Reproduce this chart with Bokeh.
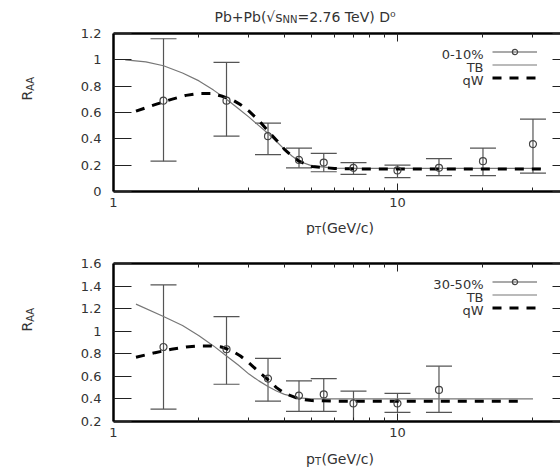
import math
from bokeh.plotting import figure
from bokeh.layouts import column, row
from bokeh.models import (LogAxis, LinearAxis, FixedTicker, CustomJSTickFormatter,
                          Label, Legend, LegendItem, Range1d)
from bokeh.embed import file_html
from bokeh.resources import INLINE

# ---------------- data ----------------
# 0-10% centrality, D0 R_AA
pt_central = [1.5, 2.5, 3.5, 4.5, 5.5, 7.0, 10.0, 14.0, 20.0, 30.0]
raa_central = [0.69, 0.69, 0.42, 0.24, 0.22, 0.18, 0.16, 0.18, 0.23, 0.36]
raa_central_lo = [0.23, 0.42, 0.28, 0.18, 0.15, 0.13, 0.105, 0.12, 0.12, 0.14]
raa_central_hi = [1.16, 0.98, 0.52, 0.33, 0.29, 0.22, 0.20, 0.25, 0.33, 0.55]

tb_central_pt = [1.1, 1.3, 1.5, 1.75, 2.0, 2.25, 2.5, 2.75, 3.0, 3.25, 3.5, 3.75,
                 4.0, 4.25, 4.5, 5.0, 6.0, 8.0, 10.0, 15.0, 20.0, 32.0]
tb_central = [1.00, 0.985, 0.955, 0.90, 0.84, 0.77, 0.70, 0.63, 0.565, 0.50, 0.44, 0.38,
              0.32, 0.27, 0.23, 0.195, 0.178, 0.175, 0.175, 0.175, 0.175, 0.175]

qw_central_pt = [1.2, 1.4, 1.6, 1.8, 2.0, 2.2, 2.4, 2.6, 2.8, 3.0, 3.25, 3.5, 3.75,
                 4.0, 4.25, 4.5, 5.0, 6.0, 8.0, 10.0, 15.0, 20.0, 32.0]
qw_central = [0.61, 0.66, 0.70, 0.73, 0.745, 0.745, 0.725, 0.70, 0.66, 0.61, 0.54, 0.46, 0.39,
              0.32, 0.27, 0.23, 0.19, 0.175, 0.17, 0.17, 0.17, 0.17, 0.17]

# 30-50% centrality, D0 R_AA
pt_semi = [1.5, 2.5, 3.5, 4.5, 5.5, 7.0, 10.0, 14.0]
raa_semi = [0.86, 0.84, 0.58, 0.43, 0.44, 0.36, 0.36, 0.48]
raa_semi_lo = [0.31, 0.53, 0.38, 0.29, 0.29, 0.20, 0.28, 0.28]
raa_semi_hi = [1.41, 1.13, 0.76, 0.56, 0.58, 0.47, 0.45, 0.69]

tb_semi_pt = [1.2, 1.5, 1.75, 2.0, 2.25, 2.5, 2.75, 3.0, 3.25, 3.5, 3.75, 4.0,
              4.5, 5.0, 6.0, 8.0, 10.0, 15.0, 20.0, 30.0]
tb_semi = [1.24, 1.13, 1.05, 0.96, 0.87, 0.78, 0.70, 0.62, 0.56, 0.51, 0.47, 0.44,
           0.41, 0.40, 0.40, 0.40, 0.40, 0.40, 0.40, 0.40]

qw_semi_pt = [1.2, 1.4, 1.6, 1.8, 2.0, 2.2, 2.4, 2.6, 2.8, 3.0, 3.25, 3.5, 3.75,
              4.0, 4.5, 5.0, 6.0, 8.0, 10.0, 15.0, 20.0, 27.0]
qw_semi = [0.77, 0.81, 0.84, 0.86, 0.87, 0.87, 0.86, 0.83, 0.78, 0.72, 0.64, 0.57, 0.50,
           0.45, 0.40, 0.385, 0.38, 0.38, 0.38, 0.38, 0.38, 0.38]

x_ticks = [1, 10]
x_minor_ticks = [2, 3, 4, 5, 6, 7, 8, 9, 20, 30]
y_ticks_central = [0, 0.2, 0.4, 0.6, 0.8, 1.0, 1.2]
y_ticks_semi = [0.2, 0.4, 0.6, 0.8, 1.0, 1.2, 1.4, 1.6]
legend_labels_central = ["0-10%", "TB", "qW"]
legend_labels_semi = ["30-50%", "TB", "qW"]

FONT = "DejaVu Sans"
TXT = "#333333"


def lab(p, x, y, text, size, angle=0.0, align="left"):
    p.add_layout(Label(x=x, y=y, x_units="screen", y_units="screen", text=text,
                       text_font=FONT, text_font_size=f"{size}px", text_color=TXT,
                       angle=angle, text_align=align, text_baseline="alphabetic"))


def blank(w, h):
    f = figure(width=w, height=h, x_range=Range1d(0, w), y_range=Range1d(0, h),
               output_backend="svg", toolbar_location=None, min_border=0,
               x_axis_type=None, y_axis_type=None)
    f.outline_line_color = None
    f.xgrid.visible = False
    f.ygrid.visible = False
    return f


def panel(width, height, left, top, bottom, ylo, yhi, yticks, pt, val, lo, hi,
          tbx, tby, qwx, qwy, leg_labels):
    p = figure(width=width, height=height, x_axis_type="log",
               x_range=Range1d(1, 37.5), y_range=Range1d(ylo, yhi),
               output_backend="svg", toolbar_location=None,
               min_border_left=left, min_border_right=0,
               min_border_top=top, min_border_bottom=bottom)
    p.outline_line_color = None
    p.grid.visible = False

    empty = CustomJSTickFormatter(code="return ''")

    xa = p.xaxis[0]
    xa.ticker = FixedTicker(ticks=x_ticks, minor_ticks=x_minor_ticks)
    xa.formatter = CustomJSTickFormatter(code="return String(tick)")
    xa.major_tick_in = 8
    xa.major_tick_out = 0
    xa.minor_tick_in = 4
    xa.minor_tick_out = 0
    xa.axis_line_width = 2.5
    xa.axis_line_color = "black"
    xa.major_tick_line_color = "#222"
    xa.minor_tick_line_color = "#222"
    xa.major_label_standoff = 6
    xa.major_label_text_font = FONT
    xa.major_label_text_font_size = "13px"
    xa.major_label_text_color = TXT

    top_ax = LogAxis(ticker=FixedTicker(ticks=x_ticks, minor_ticks=x_minor_ticks),
                     formatter=empty, major_tick_in=8, major_tick_out=0,
                     minor_tick_in=4, minor_tick_out=0, axis_line_width=2.5,
                     axis_line_color="black", major_tick_line_color="#222",
                     minor_tick_line_color="#222", major_label_standoff=0)
    p.add_layout(top_ax, "above")

    ya = p.yaxis[0]
    ya.ticker = FixedTicker(ticks=yticks, minor_ticks=[])
    ya.formatter = CustomJSTickFormatter(code="return String(Math.round(tick*10)/10)")
    ya.major_tick_in = 18
    ya.major_tick_out = 0
    ya.minor_tick_in = 0
    ya.minor_tick_out = 0
    ya.axis_line_width = 2.5
    ya.axis_line_color = "black"
    ya.major_tick_line_color = "#222"
    ya.major_label_standoff = 12
    ya.major_label_text_font = FONT
    ya.major_label_text_font_size = "13px"
    ya.major_label_text_color = TXT

    right_ax = LinearAxis(ticker=FixedTicker(ticks=yticks, minor_ticks=[]),
                          formatter=empty, major_tick_in=8, major_tick_out=0,
                          minor_tick_in=0, minor_tick_out=0, axis_line_color=None,
                          major_tick_line_color="#222", major_label_standoff=0)
    p.add_layout(right_ax, "right")

    # error bars
    seg = p.segment(x0=pt, y0=lo, x1=pt, y1=hi, line_color="#555555", line_width=1.2)
    p.scatter(x=pt + pt, y=lo + hi, marker="dash", size=26,
              line_color="#555555", line_width=1.2)
    # model curves
    tb = p.line(tbx, tby, line_color="#777777", line_width=1.2)
    qw = p.line(qwx, qwy, line_color="black", line_width=3, line_dash="9 8")
    circ = p.scatter(x=pt, y=val, marker="circle", size=7, fill_color=None,
                     line_color="#444444", line_width=1.2)

    # legend: samples on the right, texts right-aligned to their left (gnuplot style)
    legend = Legend(items=[LegendItem(label="", renderers=[seg, circ]),
                           LegendItem(label="", renderers=[tb]),
                           LegendItem(label="", renderers=[qw])],
                    location=(379, 107), border_line_color=None,
                    background_fill_alpha=0, label_text_font=FONT,
                    label_text_font_size="13px", label_text_color=TXT,
                    glyph_width=45, glyph_height=13, label_height=13,
                    label_width=0, label_standoff=0, spacing=0, padding=3, margin=0)
    p.add_layout(legend)
    for i, t in enumerate(leg_labels):
        lab(p, 370, 137 - 13 * i, t, 13, align="right")
    return p


def ylabel_fig(h, ybase):
    f = blank(50, h)
    lab(f, 26, ybase, "R", 14, angle=math.pi / 2)
    lab(f, 30, ybase + 9.7, "AA", 10, angle=math.pi / 2)
    return f


def xlabel_fig(h, ybase):
    f = blank(560, h)
    lab(f, 305.5, ybase, "p", 14)
    lab(f, 314.5, ybase - 3, "T", 10)
    lab(f, 321, ybase, "(GeV/c)", 14)
    return f


# title strip
title_fig = blank(560, 25)
lab(title_fig, 214, 9, "Pb+Pb(\u221as", 14)
lab(title_fig, 282, 6, "NN", 10)
lab(title_fig, 297, 9, "=2.76 TeV) D\u2070", 14)

p1 = panel(510, 188, 63, 8, 22, 0, 1.2, y_ticks_central, pt_central, raa_central,
           raa_central_lo, raa_central_hi, tb_central_pt, tb_central,
           qw_central_pt, qw_central, legend_labels_central)
p2 = panel(510, 208, 63, 28, 22, 0.2, 1.6, y_ticks_semi, pt_semi, raa_semi,
           raa_semi_lo, raa_semi_hi, tb_semi_pt, tb_semi,
           qw_semi_pt, qw_semi, legend_labels_semi)

layout = column(
    title_fig,
    row(ylabel_fig(188, 91), p1, spacing=0),
    xlabel_fig(22, 8),
    row(ylabel_fig(208, 90), p2, spacing=0),
    xlabel_fig(24, 9),
    spacing=0,
)
open("out.html", "w").write(file_html(layout, INLINE))
